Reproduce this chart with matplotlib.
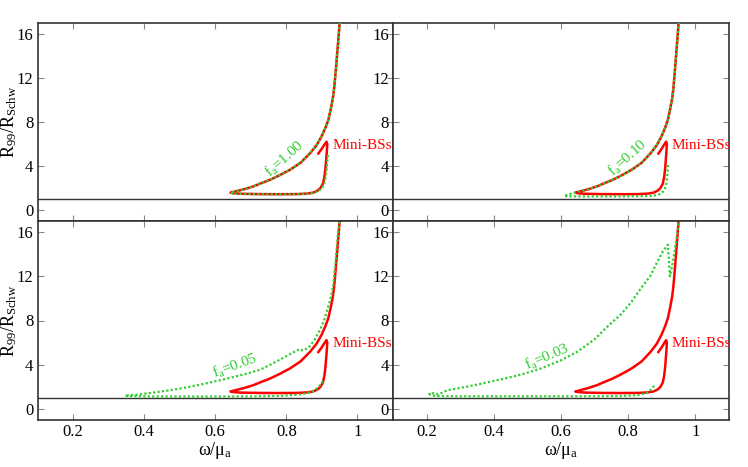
import numpy as np
import matplotlib
matplotlib.use("Agg")
from matplotlib import pyplot as plt
from matplotlib.ticker import FormatStrFormatter

plt.rcParams['font.family'] = ['Liberation Serif', 'DejaVu Serif']
plt.rcParams['mathtext.fontset'] = 'custom'
plt.rcParams['mathtext.rm'] = 'Liberation Serif'
plt.rcParams['mathtext.it'] = 'Liberation Serif:italic'

# mini boson stars (same red curve in every panel)
red_x = [0.890, 0.899, 0.908, 0.913, 0.915, 0.914, 0.912, 0.910, 0.907, 0.903, 0.896, 0.887,
         0.875, 0.860, 0.830, 0.780, 0.720, 0.670, 0.650, 0.643, 0.660, 0.680, 0.707, 0.730,
         0.754, 0.780, 0.810, 0.840, 0.867, 0.885, 0.899, 0.910, 0.918, 0.925, 0.931, 0.935,
         0.939, 0.943, 0.947, 0.951]
red_y = [5.15, 5.55, 6.00, 6.22, 6.00, 5.40, 4.60, 3.80, 3.00, 2.40, 2.00, 1.75,
         1.58, 1.50, 1.45, 1.44, 1.45, 1.48, 1.53, 1.58, 1.72, 1.88, 2.15, 2.45,
         2.75, 3.15, 3.66, 4.30, 5.18, 5.90, 6.70, 7.50, 8.20, 9.20, 10.20, 11.24,
         12.70, 14.27, 15.80, 17.50]

# f_a = 1.00
g1_x = [0.917, 0.915, 0.913, 0.910, 0.906, 0.899, 0.889, 0.876, 0.860, 0.830, 0.780, 0.720,
        0.670, 0.650, 0.643, 0.660, 0.680, 0.707, 0.730, 0.754, 0.780, 0.810, 0.840, 0.867,
        0.885, 0.899, 0.910, 0.918, 0.925, 0.931, 0.935, 0.939, 0.943, 0.947, 0.951]
g1_y = [5.00, 4.40, 3.60, 2.90, 2.35, 1.95, 1.70, 1.55, 1.48, 1.44, 1.43, 1.44,
        1.47, 1.52, 1.58, 1.72, 1.88, 2.15, 2.45, 2.75, 3.15, 3.66, 4.30, 5.18,
        5.90, 6.70, 7.50, 8.20, 9.20, 10.20, 11.24, 12.70, 14.27, 15.80, 17.50]

# f_a = 0.10
g2_x = [0.918, 0.917, 0.915, 0.912, 0.906, 0.898, 0.885, 0.865, 0.830, 0.780, 0.720, 0.660,
        0.620, 0.609, 0.620, 0.640, 0.660, 0.680, 0.707, 0.730, 0.754, 0.780, 0.810, 0.840,
        0.867, 0.885, 0.899, 0.910, 0.918, 0.925, 0.931, 0.935, 0.939, 0.943, 0.947, 0.951]
g2_y = [4.10, 3.40, 2.70, 2.15, 1.75, 1.50, 1.35, 1.28, 1.25, 1.24, 1.24, 1.24,
        1.25, 1.28, 1.40, 1.58, 1.74, 1.88, 2.15, 2.45, 2.75, 3.15, 3.66, 4.30,
        5.18, 5.90, 6.70, 7.50, 8.20, 9.20, 10.20, 11.24, 12.70, 14.27, 15.80, 17.50]

# f_a = 0.05
g3_x = [0.903, 0.899, 0.890, 0.875, 0.857, 0.830, 0.780, 0.700, 0.600, 0.500, 0.420, 0.360,
        0.346, 0.380, 0.420, 0.463, 0.520, 0.580, 0.640, 0.690, 0.726, 0.755, 0.782, 0.810,
        0.838, 0.845, 0.852, 0.866, 0.880, 0.895, 0.908, 0.918, 0.926, 0.932, 0.937, 0.941,
        0.945, 0.949, 0.953]
g3_y = [2.50, 2.35, 1.95, 1.60, 1.42, 1.28, 1.18, 1.13, 1.12, 1.12, 1.13, 1.15,
        1.20, 1.30, 1.45, 1.65, 1.95, 2.35, 2.80, 3.20, 3.55, 4.00, 4.46, 4.95,
        5.42, 5.30, 5.35, 5.66, 6.30, 7.17, 8.20, 9.28, 10.20, 11.24, 12.70, 14.27,
        15.80, 16.80, 17.50]

# f_a = 0.03
g4_x = [0.877, 0.870, 0.855, 0.830, 0.780, 0.700, 0.600, 0.500, 0.400, 0.300, 0.240, 0.220,
        0.208, 0.218, 0.230, 0.245, 0.260, 0.300, 0.350, 0.418, 0.480, 0.540, 0.600, 0.650,
        0.700, 0.740, 0.780, 0.810, 0.840, 0.865, 0.885, 0.904, 0.918, 0.921, 0.924, 0.930,
        0.934, 0.942, 0.949, 0.953]
g4_y = [2.10, 1.80, 1.45, 1.25, 1.17, 1.14, 1.14, 1.14, 1.14, 1.14, 1.15, 1.20,
        1.35, 1.42, 1.32, 1.45, 1.68, 1.90, 2.20, 2.65, 3.10, 3.65, 4.40, 5.20,
        6.30, 7.50, 8.60, 9.70, 11.00, 12.00, 13.20, 14.30, 14.86, 13.50, 12.00, 12.80,
        13.50, 15.00, 16.50, 17.50]

green_x = [g1_x, g2_x, g3_x, g4_x]
green_y = [g1_y, g2_y, g3_y, g4_y]
fa_labels = ['1.00', '0.10', '0.05', '0.03']
label_pos = [(0.796, 4.66), (0.799, 4.75), (0.655, 3.9), (0.56, 4.68)]
label_rot = [42, 42, 20, 23]

x_ticks = [0.2, 0.4, 0.6, 0.8, 1.0]
y_ticks = [0, 4, 8, 12, 16]

RED = '#ff0000'
GREEN = '#33cc33'
EDGE = '#333333'

fig = plt.figure(figsize=(7.48, 4.67), dpi=100)
W, H = 748.0, 467.0
# panel boxes in pixels: (left, top, right, bottom)
boxes = [(37.5, 23.3, 393, 221), (393, 23.3, 729, 221),
         (37.5, 221, 393, 420), (393, 221, 729, 420)]

for i, (l, t, r, b) in enumerate(boxes):
    ax = fig.add_axes([l / W, 1 - b / H, (r - l) / W, (b - t) / H])
    ax.set_xlim(0.1, 1.1)
    ax.set_ylim(-1, 17)
    ax.axhline(1, color=EDGE, lw=1.0, zorder=1)
    ax.plot(red_x, red_y, color=RED, lw=1.8, zorder=2)
    ax.plot(green_x[i], green_y[i], color=GREEN, lw=1.6, ls=(0, (1, 1)),
            dash_capstyle='butt', zorder=3)
    ax.text(0.93, 5.9, 'Mini-BSs', color=RED, fontsize=11, ha='left', va='center',
            clip_on=False, zorder=5)
    lx, ly = label_pos[i]
    ax.text(lx, ly, r'f$_\mathrm{a}$=' + fa_labels[i], color=GREEN, fontsize=11,
            rotation=label_rot[i], rotation_mode='anchor', ha='center', va='center')
    ax.set_xticks(x_ticks)
    ax.set_yticks(y_ticks)
    ax.xaxis.set_major_formatter(FormatStrFormatter('%g'))
    ax.tick_params(direction='in', top=True, right=True, length=4, width=0.8,
                   color='#888888', labelsize=12, pad=3)
    for s in ax.spines.values():
        s.set_color(EDGE)
        s.set_linewidth(1.2)
    if i % 2 == 0:
        ax.set_ylabel(r'R$_{99}$/R$_\mathrm{Schw}$', fontsize=13)
        ax.yaxis.set_label_coords(-0.052, 0.5)
    if i >= 2:
        ax.set_xlabel(r'ω/μ$_\mathrm{a}$', fontsize=13, labelpad=0)

fig.savefig('out.png', dpi=100)
